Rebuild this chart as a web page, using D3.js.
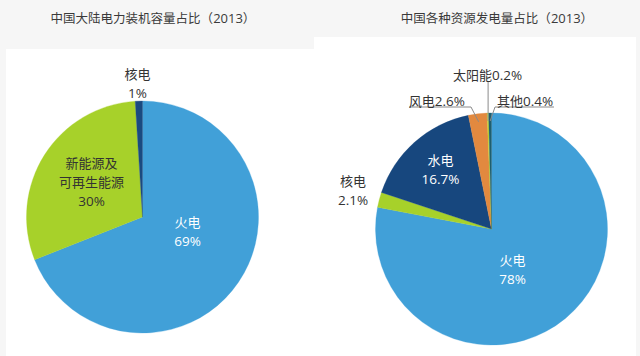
<!DOCTYPE html>
<html><head><meta charset="utf-8">
<script src="https://cdn.jsdelivr.net/npm/d3@7"></script>
<style>
html,body{margin:0;padding:0;background:#f6f6f6;}
svg{display:block;font-family:"Open Sans","Noto Sans CJK SC",sans-serif;}
</style></head><body>
<svg id="c" width="640" height="356"></svg>
<script>
// ---- data ----
const leftTitle = "中国大陆电力装机容量占比（2013）";
const leftCats = ["火电", "新能源及可再生能源", "核电"];
const leftLabelLines = [["火电","69%"], ["新能源及","可再生能源","30%"], ["核电","1%"]];
const leftVals = [69, 30, 1];

const rightTitle = "中国各种资源发电量占比（2013）";
const rightCats = ["火电", "核电", "水电", "风电", "太阳能", "其他"];
const rightVals = [78, 2.1, 16.7, 2.6, 0.2, 0.4];

// ---- styles / layout ----
const leftColors = ["#41a0d8", "#a7d12a", "#1a4a80"];
const rightColors = ["#41a0d8", "#a7d12a", "#17477e", "#e2893f", "#c4d62e", "#1d5f70"];

const svg = d3.select("#c");
svg.append("rect").attr("x",6).attr("y",49).attr("width",308).attr("height",307).attr("fill","#fff");
svg.append("rect").attr("x",314).attr("y",37).attr("width",322).attr("height",319).attr("fill","#fff");

// write a string into a text element: CJK at base size, Latin runs slightly larger
function rich(t, s, base, latin) {
  const parts = s.match(/[\x00-\x7f]+|[^\x00-\x7f]+/g) || [];
  parts.forEach(p => {
    t.append("tspan").attr("font-size", /[\x00-\x7f]/.test(p) ? latin : base).text(p);
  });
  return t;
}

rich(svg.append("text").attr("x",153).attr("y",23).attr("text-anchor","middle")
  .attr("fill","#3a3a3a"), leftTitle, 12.5, 13);
rich(svg.append("text").attr("x",497).attr("y",23).attr("text-anchor","middle")
  .attr("fill","#3a3a3a"), rightTitle, 12.5, 13);

const R = 116;
const pie = d3.pie().sort(null).value(d => d);
const arc = d3.arc().innerRadius(0).outerRadius(R);

function drawPie(cx, cy, vals, colors) {
  const g = svg.append("g").attr("transform", `translate(${cx},${cy})`);
  const arcs = pie(vals);
  g.selectAll("path").data(arcs).join("path")
    .attr("d", arc).attr("fill", (d,i) => colors[i])
    .attr("stroke", (d,i) => colors[i]).attr("stroke-width", 0.3);
  return {g, arcs};
}

function multiLabel(g, dx, dy, lines, color) {
  const lh = 19;
  lines.forEach((s,i) => {
    const t = g.append("text").attr("text-anchor","middle").attr("fill",color)
      .attr("x",dx).attr("y", dy + (i - (lines.length-1)/2)*lh + 4.5);
    rich(t, s, 13, 13.5);
  });
}

// Left pie
const L = drawPie(142.5, 217, leftVals, leftColors);
const leftLabelOff = [[45,15,"#fff"], [-51,-34.5,"#333"], [-5,-133,"#333"]];
leftLabelLines.forEach((lines,i) => multiLabel(L.g, leftLabelOff[i][0], leftLabelOff[i][1], lines, leftLabelOff[i][2]));

// Right pie
const Rp = drawPie(491.5, 229, rightVals, rightColors);
const fmt = v => (Number.isInteger(v) ? v : v.toFixed(1)) + "%";
multiLabel(Rp.g, 21, 40.5, [rightCats[0], fmt(rightVals[0])], "#fff");
multiLabel(Rp.g, -138.5, -37.7, [rightCats[1], fmt(rightVals[1])], "#333");
multiLabel(Rp.g, -51, -58.7, [rightCats[2], fmt(rightVals[2])], "#fff");

// small slices with leader lines
const inner = d3.arc().innerRadius(R-8).outerRadius(R-8);
function pt(a){ return inner.centroid(a); }
const gR = Rp.g;
const lineCol = "#8a8a8a";
// 风电
{
  const a = Rp.arcs[3], p = pt(a);
  gR.append("polyline").attr("points", `${409-491.5},${107-229} ${471-491.5},${107-229} ${p[0]},${p[1]}`)
    .attr("fill","none").attr("stroke",lineCol).attr("stroke-width",1);
  rich(gR.append("text").attr("x",465-491.5).attr("y",102+3.5-229).attr("text-anchor","end")
    .attr("fill","#333"), rightCats[3] + fmt(rightVals[3]), 13, 13.5);
}
// 太阳能
{
  const a = Rp.arcs[4], p = pt(a);
  gR.append("line").attr("x1",p[0]).attr("y1",81-229).attr("x2",p[0]).attr("y2",p[1])
    .attr("stroke",lineCol).attr("stroke-width",1);
  rich(gR.append("text").attr("x",487.5-491.5).attr("y",75+4.5-229).attr("text-anchor","middle")
    .attr("fill","#333"), rightCats[4] + fmt(rightVals[4]), 13, 13.5);
}
// 其他
{
  const a = Rp.arcs[5], p = pt(a);
  gR.append("polyline").attr("points", `${554-491.5},${107-229} ${495-491.5},${107-229} ${p[0]},${p[1]}`)
    .attr("fill","none").attr("stroke",lineCol).attr("stroke-width",1);
  rich(gR.append("text").attr("x",497-491.5).attr("y",102+3.5-229).attr("text-anchor","start")
    .attr("fill","#333"), rightCats[5] + fmt(rightVals[5]), 13, 13.5);
}
</script>
</body></html>
